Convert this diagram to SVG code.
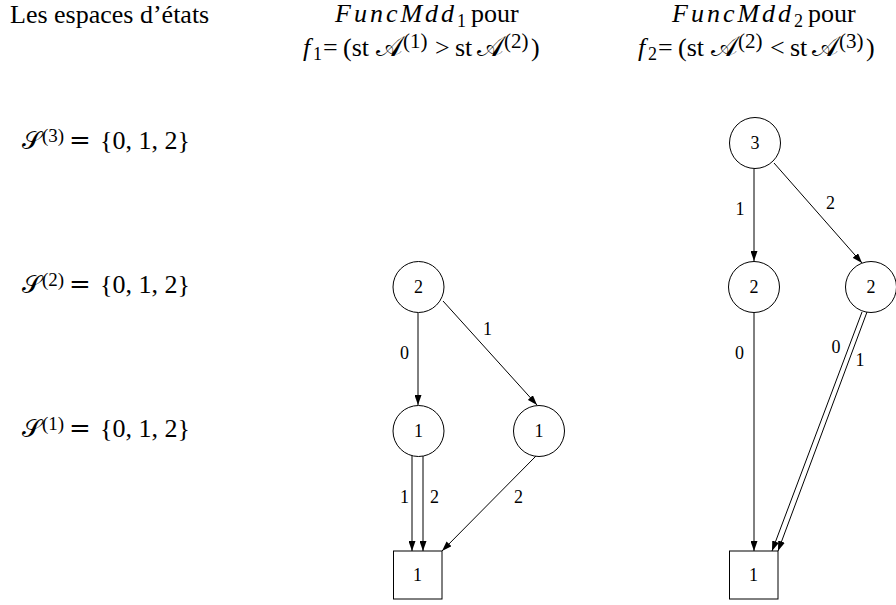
<svg xmlns="http://www.w3.org/2000/svg" width="896" height="605" viewBox="0 0 896 605">
<style>
text{font-family:"Liberation Serif","Times New Roman",serif;fill:#000}
.h{font-size:26px}
.it{font-style:italic}
.sub{font-size:18px}
.sup{font-size:21px}
.sup2{font-size:19px}
.cal{font-family:"DejaVu Serif","DejaVu Sans",serif;font-size:28px}
.cal2{font-family:"DejaVu Serif","DejaVu Sans",serif;font-size:25px}
.eq{font-family:"DejaVu Serif",serif}
.nl{font-size:18px;text-anchor:middle}
.el{font-size:18px;text-anchor:middle}
.node circle,.node rect{fill:#fff;stroke:#000;stroke-width:1}
#edges line{stroke:#000;stroke-width:1;fill:none;marker-end:url(#ah)}
</style>
<defs>
<marker id="ah" markerUnits="userSpaceOnUse" markerWidth="10" markerHeight="7" refX="10" refY="3.5" orient="auto">
<path d="M0,0 L10,3.5 L0,7 z" fill="#000"/>
</marker>
</defs>
<rect width="896" height="605" fill="#fff"/>

<g id="headers">
<text class="h" x="10" y="23">Les espaces d’états</text>
<text class="h"><tspan class="it" x="335" y="22" letter-spacing="3">FuncMdd</tspan><tspan class="sub" x="457" y="27">1</tspan><tspan x="471" y="22">pour</tspan></text>
<text class="h"><tspan class="it" x="303" y="56">f</tspan><tspan class="sub" x="313" y="60">1</tspan><tspan x="323" y="56">=</tspan><tspan x="343" y="56">(st</tspan><tspan class="cal" x="376" y="56">𝒜</tspan><tspan class="sup" x="403" y="48">(1)</tspan><tspan x="435" y="56">&gt;</tspan><tspan x="455" y="56">st</tspan><tspan class="cal" x="477" y="56">𝒜</tspan><tspan class="sup" x="504" y="48">(2)</tspan><tspan x="531" y="56">)</tspan></text>
<text class="h"><tspan class="it" x="672" y="22" letter-spacing="3">FuncMdd</tspan><tspan class="sub" x="794" y="27">2</tspan><tspan x="808" y="22">pour</tspan></text>
<text class="h"><tspan class="it" x="638" y="56">f</tspan><tspan class="sub" x="648" y="60">2</tspan><tspan x="658" y="56">=</tspan><tspan x="678" y="56">(st</tspan><tspan class="cal" x="711" y="56">𝒜</tspan><tspan class="sup" x="738" y="48">(2)</tspan><tspan x="770" y="56">&lt;</tspan><tspan x="790" y="56">st</tspan><tspan class="cal" x="812" y="56">𝒜</tspan><tspan class="sup" x="839" y="48">(3)</tspan><tspan x="866" y="56">)</tspan></text>
</g>

<g id="levels">
<text class="h"><tspan class="cal2" x="22" y="149">𝒮</tspan><tspan class="sup2" x="42" y="142">(3)</tspan><tspan class="eq" x="69" y="149">=</tspan><tspan x="100" y="149">{0, 1, 2}</tspan></text>
<text class="h"><tspan class="cal2" x="22" y="293">𝒮</tspan><tspan class="sup2" x="42" y="286">(2)</tspan><tspan class="eq" x="69" y="293">=</tspan><tspan x="100" y="293">{0, 1, 2}</tspan></text>
<text class="h"><tspan class="cal2" x="22" y="437">𝒮</tspan><tspan class="sup2" x="42" y="430">(1)</tspan><tspan class="eq" x="69" y="437">=</tspan><tspan x="100" y="437">{0, 1, 2}</tspan></text>
</g>

<g id="edges">
<line x1="418" y1="313" x2="418" y2="405"/>
<line x1="443" y1="301" x2="537" y2="405"/>
<line x1="412" y1="456" x2="412" y2="551"/>
<line x1="423" y1="456" x2="423" y2="551"/>
<line x1="536" y1="456" x2="442" y2="551"/>
<line x1="754" y1="169" x2="754" y2="261"/>
<line x1="774" y1="163" x2="862" y2="263"/>
<line x1="754" y1="313" x2="754" y2="551"/>
<line x1="862" y1="312" x2="772" y2="551"/>
<line x1="867" y1="312" x2="778" y2="551"/>
<text class="el" x="404.5" y="359">0</text>
<text class="el" x="487.5" y="335">1</text>
<text class="el" x="404.5" y="503">1</text>
<text class="el" x="434.5" y="503">2</text>
<text class="el" x="518.5" y="503">2</text>
<text class="el" x="740" y="215">1</text>
<text class="el" x="830.5" y="209">2</text>
<text class="el" x="739.5" y="359">0</text>
<text class="el" x="836" y="353">0</text>
<text class="el" x="860" y="366">1</text>
</g>

<g id="m_n2" class="node"><circle cx="418.5" cy="287" r="25.5"/><text class="nl" x="418.5" y="293">2</text></g>
<g id="m_n1a" class="node"><circle cx="418.5" cy="431" r="25.5"/><text class="nl" x="418.5" y="437">1</text></g>
<g id="m_n1b" class="node"><circle cx="539" cy="431" r="25.5"/><text class="nl" x="539" y="437">1</text></g>
<g id="m_t1" class="node"><rect x="393.5" y="551" width="48.5" height="48"/><text class="nl" x="417.5" y="581">1</text></g>

<g id="r_n3" class="node"><circle cx="755" cy="143" r="25.5"/><text class="nl" x="755" y="149">3</text></g>
<g id="r_n2a" class="node"><circle cx="754" cy="287" r="25.5"/><text class="nl" x="754" y="293">2</text></g>
<g id="r_n2b" class="node"><circle cx="871" cy="287" r="25.5"/><text class="nl" x="871" y="293">2</text></g>
<g id="r_t1" class="node"><rect x="729.5" y="551" width="48.5" height="48"/><text class="nl" x="753.5" y="581">1</text></g>
</svg>
